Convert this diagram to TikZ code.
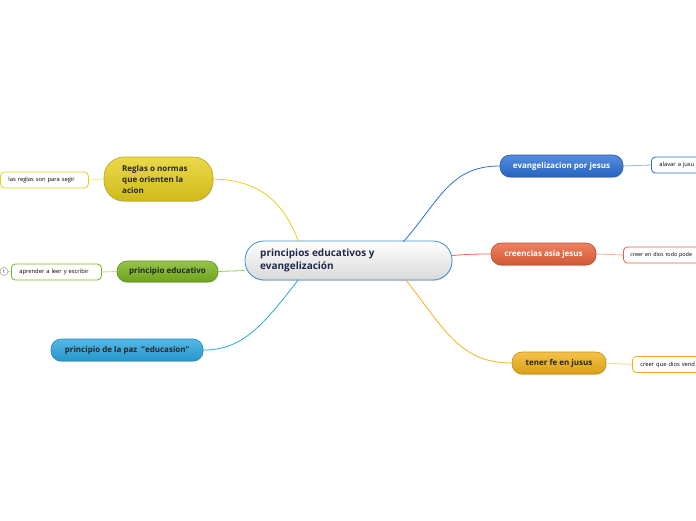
\documentclass[tikz,border=0pt]{standalone}
\usepackage{fontspec}
\setmainfont{Open Sans}
\usetikzlibrary{calc,shadows}
\definecolor{cyel}{HTML}{E6CF1E}
\definecolor{cgrn}{HTML}{7AB51D}
\definecolor{cblu}{HTML}{2AA7E2}
\definecolor{cdb}{HTML}{2A6FD6}
\definecolor{cred}{HTML}{E8623A}
\definecolor{corg}{HTML}{F2B21A}
\definecolor{cnavy}{HTML}{1E2A4A}
\definecolor{cborder}{HTML}{3A8FD0}
\tikzset{
  topic/.style={rounded corners=10pt, draw=#1!80!black, line width=0.6pt, top color=#1!80!white, bottom color=#1!90!black, font=\bfseries\fontsize{8}{9}\selectfont, text=white, align=center, inner sep=0pt, drop shadow={shadow xshift=0.5pt, shadow yshift=-1pt, opacity=0.25}},
  sub/.style={rounded corners=4pt, draw=#1, line width=0.8pt, fill=white, font=\fontsize{5.8}{6}\selectfont, text=black, inner xsep=8pt, inner ysep=0pt, minimum height=16pt, anchor=west, align=left},
  conn/.style={draw=#1, line width=0.8pt},
  sconn/.style={draw=#1!50!white, line width=0.8pt}
}
\begin{document}
\begin{tikzpicture}[x=1pt,y=-1pt]
\useasboundingbox (0,0) rectangle (696,520);
\clip (0,0) rectangle (696,520);
% central
\node[rounded corners=19pt, draw=cborder, line width=0.8pt, top color=white, bottom color=black!15, minimum width=207pt, minimum height=39pt, inner sep=0pt, drop shadow={shadow xshift=0.5pt, shadow yshift=-1pt, opacity=0.25}] (c) at (348.5,260.5) {};
\node[anchor=west, font=\bfseries\fontsize{10}{12.5}\selectfont, text=cnavy, align=left, inner sep=0pt] (ct) at (260,260.5) {principios educativos y\\evangelización};
% left topics
\node[topic=cyel, text=black!85, minimum width=109pt, minimum height=44pt, rounded corners=20pt] (reg) at (158.5,179) {};
\node[anchor=west, font=\bfseries\fontsize{8}{11}\selectfont, align=left, inner sep=0pt, text=black!85] (regt) at (122,179) {Reglas o normas\\que orienten la\\acion};
\node[topic=cgrn, text=black!85, minimum width=101pt, minimum height=21pt] (edu) at (167.5,271.5) {principio educativo};
\node[topic=cblu, text=black!85, minimum width=152pt, minimum height=22pt] (paz) at (127,350) {principio de la paz\ \ "educasion"};
% right topics
\node[topic=cdb, minimum width=123pt, minimum height=22pt] (evg) at (561.5,166) {evangelizacion por jesus};
\node[topic=cred, minimum width=105pt, minimum height=22pt] (cre) at (543.5,254) {creencias asia jesus};
\node[topic=corg, text=black!85, minimum width=94pt, minimum height=22pt] (fe) at (559,363) {tener fe en jusus};
% subtopics
\node[sub=cyel, text width=72pt] (s1) at (0,180) {las reglas son para segir};
\node[sub=cgrn, text width=74pt] (s2) at (11,272) {aprender a leer y escribir};
\node[circle, draw=black!40, line width=0.5pt, fill=white, minimum size=8pt, inner sep=0pt, font=\fontsize{4.5}{5}\selectfont] (n1) at (4,271.5) {1};
\node[sub=cdb, text width=60pt] (s3) at (651,165) {alavar a jusu};
\node[sub=cred, text width=80pt, inner xsep=7pt, font=\fontsize{5.4}{6}\selectfont] (s4) at (623,255) {creer en dios todo pode};
\node[sub=corg, text width=80pt] (s5) at (632,364.5) {creer que dios vend};
% connectors main
\draw[conn=cyel] ($(c.north)+(-50,1)$) .. controls (285,205) and (262,180) .. (reg.east);
\draw[conn=cgrn!80!white] ($(c.west)+(0,10)$) .. controls (235,271) and (228,271) .. (edu.east);
\draw[conn=cblu] ($(c.south)+(-50,-1)$) .. controls (260,330) and (240,350) .. (paz.east);
\draw[conn=cdb] ($(c.north)+(55,1)$) .. controls (440,200) and (450,166) .. (evg.west);
\draw[conn=cred] ($(c.east)+(0,-5)$) .. controls (470,254) and (478,254) .. (cre.west);
\draw[conn=corg] ($(c.south)+(57,-1)$) .. controls (445,330) and (460,363) .. (fe.west);
% connectors sub
\draw[sconn=cyel] (reg.west) -- (s1.east);
\draw[sconn=cgrn] (edu.west) -- (s2.east);
\draw[draw=black!40, line width=0.5pt] (n1.east) -- (s2.west);
\draw[sconn=cdb] (evg.east) -- (s3.west);
\draw[sconn=cred] (cre.east) -- (s4.west);
\draw[sconn=corg] (fe.east) -- (s5.west);
\end{tikzpicture}
\end{document}
